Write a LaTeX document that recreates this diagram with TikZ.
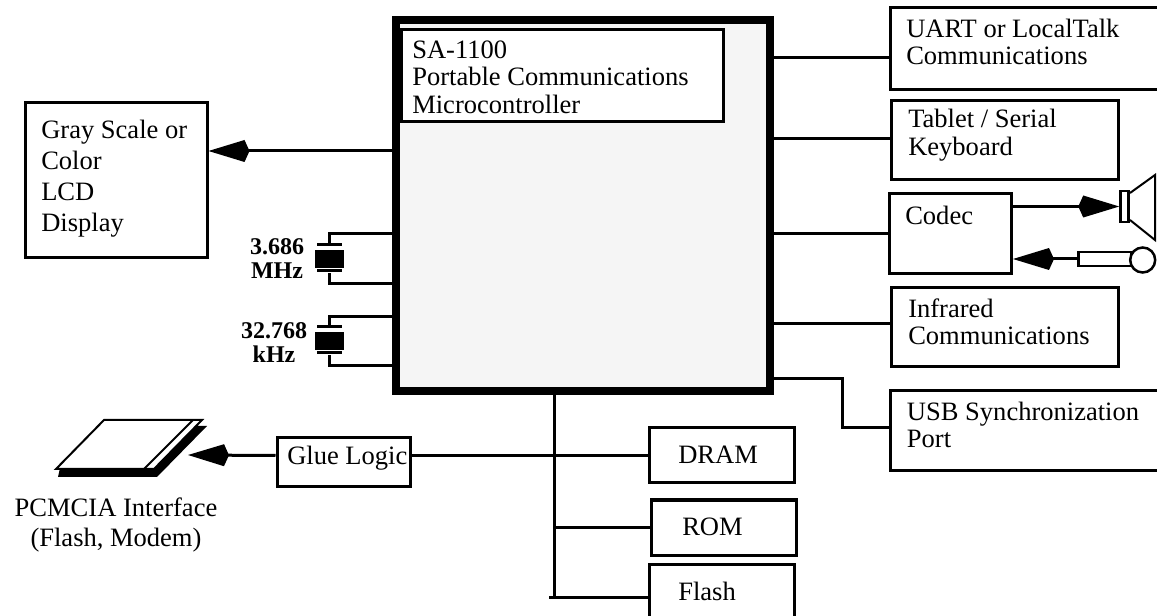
\documentclass[tikz,border=0pt]{standalone}
\usepackage{xcolor}
\usepackage{fontspec}
\setmainfont{Liberation Serif}
\usetikzlibrary{arrows.meta, positioning, calc}
\definecolor{chipfill}{HTML}{F5F5F5}
\newcommand{\pxu}{0.75pt}

\begin{document}
\begin{tikzpicture}[
    x=\pxu, y=-\pxu,
    box/.style={draw, line width=3*\pxu, fill=white, inner sep=0pt},
    chip/.style={draw, line width=8*\pxu, fill=chipfill, inner sep=0pt},
    lbl/.style={inner sep=0pt, anchor=west, align=left, font=\fontsize{19.9}{20.6}\selectfont},
    freq/.style={inner sep=0pt, align=center, font=\fontsize{18}{18}\selectfont\bfseries},
    wire/.style={draw, line width=3*\pxu},
    thin/.style={draw, line width=2*\pxu},
    plate/.style={fill=black, inner sep=0pt, minimum width=25*\pxu, minimum height=3*\pxu},
    xblock/.style={fill=black, inner sep=0pt, minimum width=29*\pxu, minimum height=18*\pxu},
    arw/.style={draw, line width=3*\pxu, -{Kite[length=41*\pxu, width=22*\pxu, inset=5*\pxu, line width=0pt]}}
]
    \path[use as bounding box, clip] (0,0) rectangle (1157,616);

    \node[chip, minimum width=374*\pxu, minimum height=371*\pxu] (main) at (583,206) {};
    \node[box, minimum width=322*\pxu, minimum height=92*\pxu] (title) at (562.5,76) {};
    \node[lbl] (titletxt) at (412,77) {SA-1100\\Portable Communications\\Microcontroller};

    \node[box, minimum width=182*\pxu, minimum height=155*\pxu] (lcd) at (116,180.5) {};
    \node[lbl, font=\fontsize{19.9}{23.2}\selectfont] (lcdtxt) at (41,179) {Gray Scale or\\Color\\LCD\\Display};

    \node[box, minimum width=280*\pxu, minimum height=82*\pxu] (uart) at (1030,48.3) {};
    \node[lbl] (uarttxt) at (906,41.7) {UART or LocalTalk\\Communications};
    \node[box, minimum width=227*\pxu, minimum height=79*\pxu] (tablet) at (1005,140.5) {};
    \node[lbl] (tablettxt) at (908,135) {Tablet / Serial\\Keyboard};
    \node[box, minimum width=122*\pxu, minimum height=80*\pxu] (codec) at (950.5,234) {};
    \node[lbl] (codectxt) at (905,215) {Codec};
    \node[box, minimum width=227*\pxu, minimum height=79*\pxu] (irda) at (1005,327.3) {};
    \node[lbl] (irdatxt) at (908,322) {Infrared\\Communications};
    \node[box, minimum width=280*\pxu, minimum height=80*\pxu] (usb) at (1030,430.8) {};
    \node[lbl] (usbtxt) at (906.7,425) {USB Synchronization\\Port};

    \node[box, minimum width=145*\pxu, minimum height=55*\pxu] (dram) at (721.5,455.5) {};
    \node[lbl] (dramtxt) at (678,455) {DRAM};
    \node[box, minimum width=145*\pxu, minimum height=55*\pxu] (rom) at (723.5,527.5) {};
    \node[lbl] (romtxt) at (682,527) {ROM};
    \node[box, minimum width=145*\pxu, minimum height=66*\pxu] (flash) at (721.5,597) {};
    \node[lbl] (flashtxt) at (678,591) {Flash};
    \node[box, minimum width=133*\pxu, minimum height=49*\pxu] (glue) at (343.5,462.5) {};
    \node[lbl] (gluetxt) at (287,458) {Glue Logic};

    % chip to peripherals
    \draw[wire] (main.east |- 0,58) -- (uart.west |- 0,58);
    \draw[wire] (main.east |- 0,138.5) -- (tablet.west |- 0,138.5);
    \draw[wire] (main.east |- codec.west) -- (codec.west);
    \draw[wire] (main.east |- 0,324) -- (irda.west |- 0,324);
    \draw[wire] (main.east |- 0,379) -- (842,379) |- (usb.west |- 0,427.7);
    \draw[arw] (main.west |- 0,151) -- (lcd.east |- 0,151);

    % crystals
    \node[plate] (plate1a) at (329.5,245) {};
    \node[xblock] (xtal1) at (329.5,259) {};
    \node[plate] (plate1b) at (329.5,271) {};
    \node[plate] (plate2a) at (329.5,327) {};
    \node[xblock] (xtal2) at (329.5,341) {};
    \node[plate] (plate2b) at (329.5,353) {};
    \draw[wire] (main.west |- 0,234) -| (plate1a.north);
    \draw[wire] (main.west |- 0,284) -| (plate1b.south);
    \draw[wire] (main.west |- 0,317) -| (plate2a.north);
    \draw[wire] (main.west |- 0,366) -| (plate2b.south);
    \node[freq] (freq1) at (277,259) {3.686\\MHz};
    \node[freq] (freq2) at (274,343) {32.768\\kHz};

    % memory bus
    \coordinate (busend) at (554,597);
    \coordinate (busstub) at (549,597);
    \draw[wire] (main.south -| busend) -- (busend);
    \draw[wire] (glue.east |- dram.west) -- (dram.west);
    \draw[wire] (busend |- rom.west) -- (rom.west);
    \draw[wire] (busstub) -- (flash.west |- busstub);

    % speaker and microphone
    \node[draw, line width=2.5*\pxu, inner sep=0pt, minimum width=8*\pxu, minimum height=31*\pxu] (spk) at (1124.5,206.5) {};
    \draw[thin] (1130,193) -- (1155,175) -- (1155,240) -- (1130,220);
    \draw[arw] (codec.east |- spk.west) -- (spk.west);
    \node[draw, line width=2.5*\pxu, inner sep=0pt, minimum width=53*\pxu, minimum height=14*\pxu] (mic) at (1105,259) {};
    \node[draw, circle, line width=2.5*\pxu, fill=white, inner sep=0pt, minimum size=25*\pxu] (micball) at (1142.7,260) {};
    \draw[arw] (mic.west) -- (mic.west -| codec.east);

    % PCMCIA card
    \fill (58,477) -- (157,477) -- (207,426) -- (190,426) -- (60,468) -- cycle;
    \draw[thin, fill=white] (56,469) -- (104,420) -- (202,420) -- (154,469) -- cycle;
    \draw[thin] (193,420) -- (144,469);
    \coordinate (cardin) at (188,455);
    \draw[arw] (glue.west |- dram.west) -- (cardin);
    \node[lbl, anchor=center, align=center, font=\fontsize{19.9}{22.5}\selectfont] (cardtxt) at (116,524.5) {PCMCIA Interface\\(Flash, Modem)};
\end{tikzpicture}
\end{document}
